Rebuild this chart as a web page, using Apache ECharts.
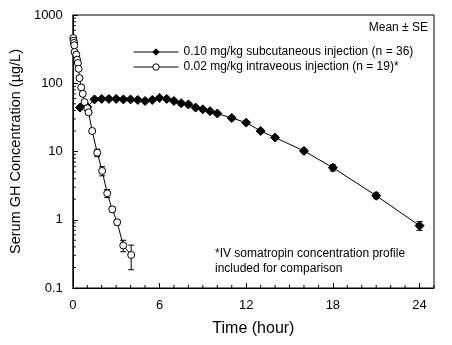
<!DOCTYPE html>
<html>
<head>
<meta charset="utf-8">
<script src="https://cdn.jsdelivr.net/npm/echarts@6/dist/echarts.min.js"></script>
<style>html,body{margin:0;padding:0;background:#fff}#c{width:452px;height:345px}</style>
</head>
<body>
<div id="c"></div>
<script>
// Subcutaneous (0.10 mg/kg) – time (h), mean (µg/L), SE
const scTime = [0.5,1,1.5,2,2.5,3,3.5,4,4.5,5,5.5,6,6.5,7,7.5,8,8.5,9,9.5,10,11,12,13,14,16,18,21,24];
const scMean = [44,45,58,59,59,59,58,58,57,55,57,61,59,55,51,49,44,41.5,39,36,31,26.5,20,16,10.2,5.8,2.25,0.82];
const scSE   = [3,3,3,3,3,3,3,3,3,3,3,3,3,3,3,3,2.5,2.5,2,2,2,1.5,1.2,0.9,0.7,0.6,0.22,0.12];
// Intravenous (0.02 mg/kg)
const ivTime = [0.03,0.05,0.08,0.1,0.12,0.24,0.3,0.35,0.4,0.46,0.58,0.69,0.81,1.0,1.09,1.34,1.69,2.03,2.38,2.73,3.07,3.49,4.04];
const ivMean = [460,420,389,360,287,262,221,198,163,119,87,70,53,43,37.5,20,9.6,5.2,2.44,1.42,0.92,0.42,0.305];
const ivSE   = [20,20,20,20,15,15,12,10,8,6,5,4,3,3,2.5,1.5,1.2,0.8,0.33,0.12,0.08,0.08,0.12];
// Axis ticks
const xMajorTicks = [0,6,12,18,24];
const xMinorTicks = [1,2,3,4,5,7,8,9,10,11,13,14,15,16,17,19,20,21,22,23,25];
const yTickLabels = ['0.1','1','10','100','1000'];
const yMinorTicks = [0.2,0.3,0.4,0.5,0.6,0.7,0.8,0.9,2,3,4,5,6,7,8,9,20,30,40,50,60,70,80,90,200,300,400,500,600,700,800,900];

const scName = '0.10 mg/kg subcutaneous injection (n = 36)';
const ivName = '0.02 mg/kg intraveous injection (n = 19)*';
const FONT = "'Liberation Sans', Arial, sans-serif";

const scData = scTime.map((t,i)=>[t, scMean[i]]);
const ivData = ivTime.map((t,i)=>[t, ivMean[i]]);
const scErr = scTime.map((t,i)=>[t, scMean[i]-scSE[i], scMean[i]+scSE[i]]);
const ivErr = ivTime.map((t,i)=>[t, ivMean[i]-ivSE[i], ivMean[i]+ivSE[i]]);

function errRender(params, api){
  const x = api.value(0);
  const lo = api.coord([x, api.value(1)]);
  const hi = api.coord([x, api.value(2)]);
  const w = 3;
  const st = {stroke:'#000', lineWidth:1};
  return {type:'group', children:[
    {type:'line', shape:{x1:lo[0],y1:lo[1],x2:hi[0],y2:hi[1]}, style:st},
    {type:'line', shape:{x1:lo[0]-w,y1:lo[1],x2:lo[0]+w,y2:lo[1]}, style:st},
    {type:'line', shape:{x1:hi[0]-w,y1:hi[1],x2:hi[0]+w,y2:hi[1]}, style:st}
  ]};
}

const chart = echarts.init(document.getElementById('c'), null, {renderer:'canvas'});
chart.setOption({
  animation:false,
  backgroundColor:'#fff',
  textStyle:{fontFamily:FONT},
  grid:{left:72, right:18, top:15, bottom:57, show:true, borderColor:'#000', borderWidth:1, backgroundColor:'transparent'},
  xAxis:{
    type:'value', min:0, max:25, interval:6,
    name:'Time (hour)', nameLocation:'middle', nameGap:33,
    nameTextStyle:{fontSize:16, color:'#000', fontFamily:FONT},
    axisLine:{show:true, lineStyle:{color:'#000', width:1}},
    axisTick:{show:true, inside:true, length:5, lineStyle:{color:'#000'}},
    axisLabel:{fontSize:13, color:'#000', margin:11, fontFamily:FONT, showMaxLabel:false,
      formatter:v=> xMajorTicks.indexOf(v)>=0 ? String(v) : ''},
    splitLine:{show:false}
  },
  yAxis:{
    type:'log', logBase:10, min:0.1, max:1000,
    name:'Serum GH Concentration (µg/L)', nameLocation:'middle', nameGap:46,
    nameTextStyle:{fontSize:14.5, color:'#000', fontFamily:FONT},
    axisLine:{show:true, lineStyle:{color:'#000', width:1}},
    axisTick:{show:true, inside:true, length:5, lineStyle:{color:'#000'}},
    axisLabel:{fontSize:13, color:'#000', margin:10, fontFamily:FONT,
      formatter:v=>{ const s = yTickLabels.find(l=>Math.abs(parseFloat(l)-v)<1e-6*Math.max(1,v)); return s||''; }},
    splitLine:{show:false}
  },
  legend:{
    orient:'vertical', left:128, top:41, itemWidth:45, itemHeight:8, itemGap:3,
    lineStyle:{width:1, color:'#000'},
    itemStyle:{borderWidth:1},
    textStyle:{fontSize:12, color:'#000', fontFamily:FONT},
    data:[scName, ivName]
  },
  graphic:[
    {type:'text', right:24, top:22, style:{text:'Mean ± SE', font:'12px '+FONT, fill:'#000'}},
    {type:'text', left:215, top:246, style:{text:'*IV somatropin concentration profile\nincluded for comparison', font:'12px '+FONT, fill:'#000', lineHeight:15}}
  ],
  series:[
    {type:'custom', name:'yminor', data:yMinorTicks.map(v=>[0,v]), clip:false, silent:true, z:3,
      renderItem:(p,api)=>{const c=api.coord([0, api.value(1)]); return {type:'line', shape:{x1:c[0],y1:c[1],x2:c[0]+3,y2:c[1]}, style:{stroke:'#000',lineWidth:1}};}},
    {type:'custom', name:'xminor', data:xMinorTicks.map(v=>[v,0.1]), clip:false, silent:true, z:3,
      renderItem:(p,api)=>{const c=api.coord([api.value(0), 0.1]); return {type:'line', shape:{x1:c[0],y1:c[1],x2:c[0],y2:c[1]-3}, style:{stroke:'#000',lineWidth:1}};}},
    {type:'custom', name:'scErr', data:scErr, renderItem:errRender, silent:true, z:2, encode:{x:0,y:[1,2]}},
    {type:'custom', name:'ivErr', data:ivErr, renderItem:errRender, silent:true, z:2, encode:{x:0,y:[1,2]}},
    {type:'line', name:scName, data:scData, symbol:'diamond', symbolSize:9, showAllSymbol:true,
      lineStyle:{color:'#000', width:1}, itemStyle:{color:'#000', borderColor:'#000'}, z:4},
    {type:'line', name:ivName, data:ivData, symbol:'circle', symbolSize:7, showAllSymbol:true,
      lineStyle:{color:'#000', width:1}, itemStyle:{color:'#fff', borderColor:'#000', borderWidth:1}, z:5}
  ]
});
</script>
</body>
</html>
